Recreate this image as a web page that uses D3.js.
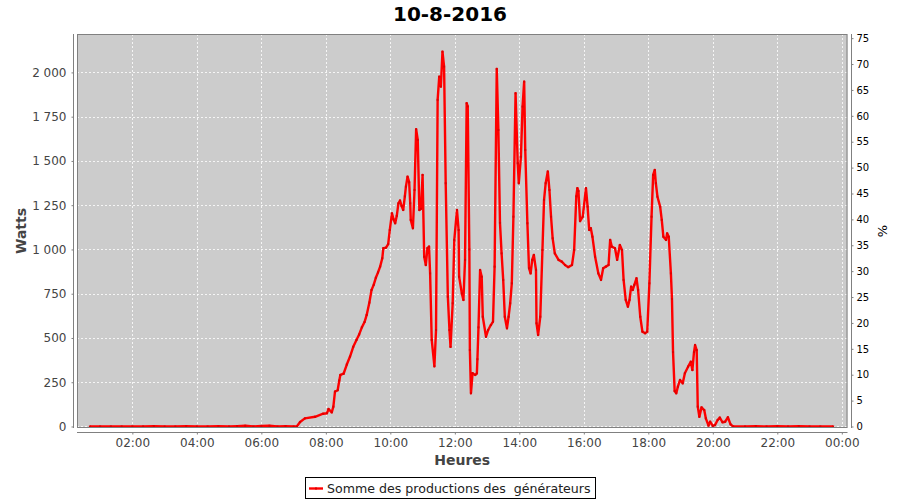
<!DOCTYPE html>
<html><head><meta charset="utf-8">
<script src="https://cdn.jsdelivr.net/npm/d3@7/dist/d3.min.js"></script>
<style>
html,body{margin:0;padding:0;background:#fff;}
svg{display:block;font-family:"DejaVu Sans",sans-serif;}
</style></head>
<body>
<svg id="chart" width="900" height="500"></svg>
<script>
const title = "10-8-2016";
const seriesName = "Somme des productions des  générateurs";
const times = ["00:41","01:00","01:20","01:40","02:00","02:20","02:40","03:00","03:20","03:40","04:00","04:20","04:40","05:00","05:15","05:30","05:45","06:00","06:15","06:30","06:45","07:00","07:06","07:12","07:21","07:40","07:55","08:02","08:05","08:11","08:14","08:17","08:22","08:25","08:27","08:33","08:39","08:45","08:51","08:57","09:02","09:07","09:12","09:16","09:21","09:25","09:29","09:33","09:37","09:41","09:45","09:47","09:52","09:56","09:59","10:03","10:06","10:09","10:12","10:15","10:18","10:21","10:24","10:27","10:29","10:32","10:35","10:37","10:38","10:42","10:45","10:48","10:51","10:54","10:57","11:00","11:03","11:06","11:09","11:12","11:14","11:17","11:22","11:25","11:28","11:31","11:34","11:37","11:40","11:43","11:47","11:50","11:52","11:56","11:59","12:04","12:07","12:08","12:13","12:16","12:19","12:22","12:24","12:27","12:28","12:30","12:33","12:38","12:41","12:42","12:44","12:47","12:50","12:52","12:58","13:02","13:07","13:11","13:14","13:18","13:21","13:24","13:27","13:30","13:33","13:37","13:40","13:43","13:46","13:49","13:53","13:57","13:59","14:03","14:06","14:09","14:11","14:15","14:18","14:21","14:24","14:27","14:31","14:32","14:35","14:39","14:43","14:46","14:49","14:53","14:56","14:59","15:02","15:06","15:13","15:19","15:25","15:31","15:38","15:42","15:46","15:48","15:50","15:53","15:58","16:04","16:07","16:10","16:13","16:16","16:21","16:27","16:32","16:36","16:41","16:46","16:49","16:52","16:58","17:02","17:07","17:11","17:14","17:18","17:22","17:25","17:28","17:31","17:34","17:38","17:41","17:45","17:49","17:54","17:58","18:02","18:06","18:09","18:12","18:14","18:17","18:22","18:25","18:28","18:33","18:35","18:38","18:42","18:44","18:46","18:49","18:52","18:55","18:59","19:04","19:08","19:14","19:19","19:22","19:25","19:27","19:30","19:32","19:35","19:39","19:44","19:47","19:52","19:55","20:00","20:04","20:09","20:13","20:18","20:23","20:28","20:33","20:38","21:00","21:20","21:40","22:00","22:20","22:40","23:00","23:20","23:44"];
const watts = [0,0,0,0,0,0,1,0,0,1,0,0,1,0,2,4,0,3,4,0,2,0,0,25,46,55,72,75,99,80,112,197,205,260,291,298,350,395,450,489,520,560,590,630,700,771,800,840,870,903,950,1007,1010,1030,1110,1204,1170,1148,1190,1260,1276,1245,1223,1300,1355,1411,1380,1261,1167,1120,1336,1679,1619,1223,1230,1421,959,912,1007,1016,865,489,340,545,1845,1976,1920,2117,2033,1374,733,545,450,696,1054,1223,1110,846,752,715,941,1826,1808,1000,432,188,301,291,300,380,560,884,846,620,507,545,573,592,903,2020,1675,1150,978,828,620,555,620,696,809,1185,1882,1487,1374,1524,1807,1948,1562,1148,894,865,941,969,884,583,517,620,997,1280,1374,1440,1336,1185,1063,978,941,931,912,900,912,997,1300,1346,1330,1160,1185,1346,1242,1110,1120,1072,959,865,828,894,903,912,1054,1016,1007,941,1025,997,828,715,677,715,790,771,800,837,771,620,536,527,536,809,1185,1421,1449,1374,1298,1242,1167,1072,1054,1091,1072,865,720,420,200,188,225,263,244,301,338,366,319,420,460,432,112,55,108,93,46,5,27,3,8,37,50,24,27,52,12,0,0,2,0,1,0,2,0,0,0];
const leftTicks = [0,250,500,750,1000,1250,1500,1750,2000];
const rightTicks = [0,5,10,15,20,25,30,35,40,45,50,55,60,65,70,75];
const xTickLabels = ["02:00","04:00","06:00","08:00","10:00","12:00","14:00","16:00","18:00","20:00","22:00","00:00"];
const leftLabel = "Watts", rightLabel = "%", xLabel = "Heures";

const svg = d3.select("#chart");
const P = {l:77, r:847.5, t:34, b:428};
const parse = s => { const [h,m] = s.split(":").map(Number); return new Date(2016,7,10,h,m); };
const x = d3.scaleTime().domain([new Date(2016,7,10,0,17), new Date(2016,7,11,0,10,36)]).range([P.l,P.r]);
const y = d3.scaleLinear().domain([-8.5,2217]).range([P.b,P.t]);
const y2 = d3.scaleLinear().domain([-0.29,75.8]).range([P.b,P.t]);
const data = times.map((t,i)=>({t:parse(t), v:watts[i]}));
const fr = d3.formatLocale({decimal:",",thousands:"\u00a0",grouping:[3],currency:["","€"]}).format(",d");
const xTicks = xTickLabels.map((s,i)=> i===xTickLabels.length-1 ? new Date(2016,7,11,0,0) : parse(s));

// title
svg.append("text").attr("x",450).attr("y",21).attr("text-anchor","middle")
  .attr("font-size",20).attr("font-weight","bold").attr("fill","#000").text(title);

// plot bg
svg.append("rect").attr("x",P.l).attr("y",P.t).attr("width",P.r-P.l).attr("height",P.b-P.t).attr("fill","#cccccc");
// grid
const g = svg.append("g");
g.selectAll(".vg").data(xTicks).join("line").attr("x1",d=>Math.round(x(d))+0.5).attr("x2",d=>Math.round(x(d))+0.5)
  .attr("y1",P.t).attr("y2",P.b).attr("stroke","#fff").attr("stroke-width",0.8).attr("stroke-dasharray","2,2");
g.selectAll(".hg").data(leftTicks).join("line").attr("y1",d=>Math.round(y(d))+0.5).attr("y2",d=>Math.round(y(d))+0.5)
  .attr("x1",P.l).attr("x2",P.r).attr("stroke","#fff").attr("stroke-width",0.8).attr("stroke-dasharray","2,2");

// line
const line = d3.line().x(d=>x(d.t)).y(d=>y(d.v));
svg.append("path").datum(data).attr("d",line).attr("fill","none").attr("stroke","#ff0000")
  .attr("stroke-width",2.4).attr("stroke-linejoin","round");
svg.append("g").selectAll("rect").data(data).join("rect").attr("x",d=>x(d.t)-1).attr("y",d=>y(d.v)-1)
  .attr("width",2).attr("height",2).attr("fill","#dd0000");

// plot border
svg.append("rect").attr("x",P.l+0.5).attr("y",P.t+0.5).attr("width",P.r-P.l-1).attr("height",P.b-P.t-1)
  .attr("fill","none").attr("stroke","#808080");

function styleAxis(sel, col, fs){
  sel.select(".domain").attr("stroke","#808080");
  sel.selectAll(".tick line").attr("stroke","#808080");
  sel.selectAll(".tick text").attr("fill",col).attr("font-size",fs).attr("font-family","DejaVu Sans");
}
// left axis
const ax = svg.append("g").attr("transform","translate(73.5,0)")
  .call(d3.axisLeft(y).tickValues(leftTicks).tickFormat(fr).tickSize(2).tickSizeOuter(0).tickPadding(5));
ax.select(".domain").attr("d",`M0,${P.t}V${P.b}`);
styleAxis(ax,"#444",12);
// right axis
const ar = svg.append("g").attr("transform","translate(851.5,0)")
  .call(d3.axisRight(y2).tickValues(rightTicks).tickSize(2).tickSizeOuter(0).tickPadding(3));
ar.select(".domain").attr("d",`M0,${P.t}V${P.b}`);
styleAxis(ar,"#000",10);
// bottom axis
const ab = svg.append("g").attr("transform","translate(0,432.5)")
  .call(d3.axisBottom(x).tickValues(xTicks).tickFormat((d,i)=>xTickLabels[i]).tickSize(2).tickSizeOuter(0).tickPadding(4));
ab.select(".domain").attr("d",`M${P.l},0H${P.r}`);
styleAxis(ab,"#444",12);

// axis labels
svg.append("text").attr("transform",`translate(26,${(P.t+P.b)/2}) rotate(-90)`).attr("text-anchor","middle")
  .attr("font-size",14).attr("font-weight","bold").attr("fill","#444").text(leftLabel);
svg.append("text").attr("transform",`translate(887,${(P.t+P.b)/2}) rotate(-90)`).attr("text-anchor","middle")
  .attr("font-size",13).attr("fill","#000").text(rightLabel);
svg.append("text").attr("x",(P.l+P.r)/2).attr("y",465).attr("text-anchor","middle")
  .attr("font-size",14).attr("font-weight","bold").attr("fill","#444").text(xLabel);

// legend
const lg = svg.append("g");
lg.append("rect").attr("x",305.5).attr("y",477.5).attr("width",290).attr("height",21).attr("fill","#fff").attr("stroke","#000");
lg.append("line").attr("x1",309).attr("x2",323).attr("y1",488.5).attr("y2",488.5).attr("stroke","#ff0000").attr("stroke-width",2.4);
lg.append("rect").attr("x",315).attr("y",487.5).attr("width",2).attr("height",2).attr("fill","#dd0000");
lg.append("text").attr("x",327).attr("y",492.5).attr("font-size",12.6).attr("fill","#222").style("white-space","pre").attr("xml:space","preserve").text(seriesName);
</script>
</body></html>
